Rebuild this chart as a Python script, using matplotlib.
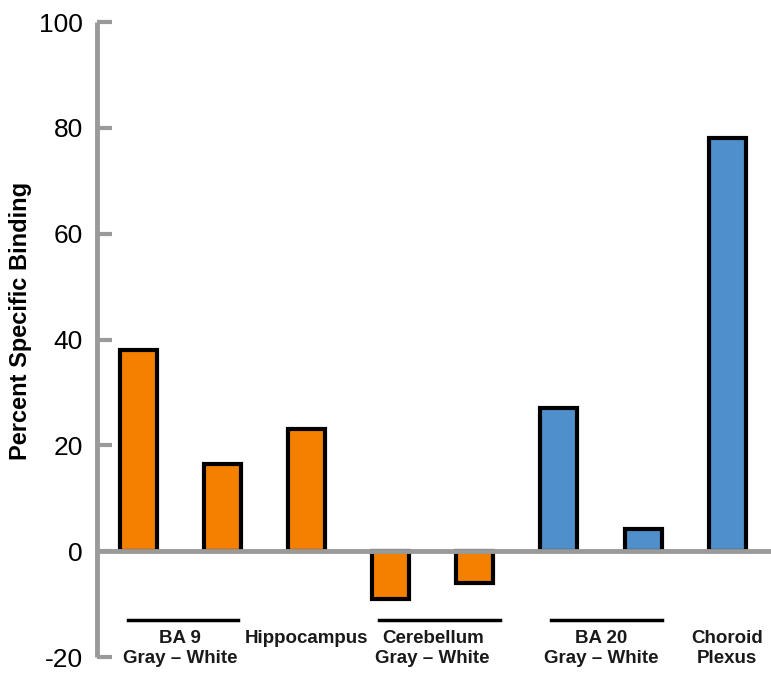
import matplotlib
matplotlib.use("Agg")
import matplotlib.pyplot as plt

plt.rcParams['font.family'] = ['Liberation Sans', 'DejaVu Sans']
plt.rcParams['axes.unicode_minus'] = False

# bar values (percent specific binding)
values = [38, 16.5, 23, -9, -6, 27, 4.2, 78]
colors = ['#F58000'] * 5 + ['#4F8FCB'] * 3
yticks = [-20, 0, 20, 40, 60, 80, 100]

# labels under the bars: (text, x centre, group line from, group line to)
groups = [
    ("BA 9\nGray \u2013 White", 0.5, -0.12, 1.18),
    ("Hippocampus", 2.0, None, None),
    ("Cerebellum\nGray \u2013 White", 3.5, 2.86, 4.3),
    ("BA 20\nGray \u2013 White", 5.5, 4.9, 6.22),
    ("Choroid\nPlexus", 7.0, None, None),
]

gray = '#9A9A9A'

fig = plt.figure(figsize=(7.71, 6.77), dpi=100)
ax = fig.add_axes([0.1258, 0.0295, 0.8742, 0.938])

x = list(range(len(values)))
ax.bar(x, values, width=0.44, color=colors, edgecolor='black', linewidth=3, zorder=3)

ax.set_ylim(-20, 100)
ax.set_xlim(-0.49, 7.52)
ax.set_yticks(yticks)
ax.set_xticks([])

for s in ['top', 'right', 'bottom']:
    ax.spines[s].set_visible(False)
ax.spines['left'].set_color(gray)
ax.spines['left'].set_linewidth(3.5)
ax.spines['left'].set_capstyle('butt')

ax.tick_params(axis='y', direction='in', length=11, width=3, color=gray,
               labelsize=19, pad=10)
ax.axhline(0, color=gray, linewidth=3.5, zorder=4)

ax.set_ylabel("Percent Specific Binding", fontsize=17, fontweight='bold')
ax.yaxis.set_label_coords(-0.097, 0.529)

for text, xc, x0, x1 in groups:
    if x0 is not None:
        ax.plot([x0, x1], [-13, -13], color='black', linewidth=2.5, clip_on=False)
    ax.text(xc, -14.9, text, ha='center', va='top', fontsize=13.5,
            fontweight='bold', color='#1a1a1a', linespacing=1.25)

fig.savefig("out.png", dpi=100)
